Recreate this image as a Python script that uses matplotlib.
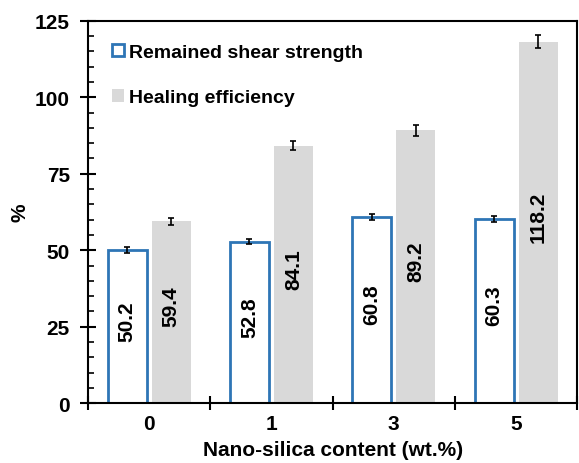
import matplotlib.pyplot as plt
import numpy as np

plt.rcParams['font.family'] = ['Liberation Sans', 'DejaVu Sans']
plt.rcParams['font.weight'] = 'bold'

# data
contents = ['0', '1', '3', '5']
shear_strength = [50.2, 52.8, 60.8, 60.3]
shear_err = [1.0, 0.9, 1.0, 1.0]
healing_eff = [59.4, 84.1, 89.2, 118.2]
healing_err = [1.2, 1.5, 1.7, 2.0]

BLUE = '#2E75B6'
GREY = '#D9D9D9'

fig = plt.figure(figsize=(5.79, 4.64), dpi=100)
ax = fig.add_axes([0.152, 0.129, 0.845, 0.824])

centers = np.arange(len(contents)) + 0.5
w = 0.32
off = 0.18

ax.bar(centers - off, shear_strength, width=w, color='white', edgecolor=BLUE,
       linewidth=2, label='Remained shear strength', zorder=2)
ax.bar(centers + off, healing_eff, width=w, color=GREY, edgecolor='none',
       label='Healing efficiency', zorder=2)
ax.errorbar(centers - off, shear_strength, yerr=shear_err, fmt='none',
            ecolor='black', elinewidth=1.2, capsize=2, capthick=1.2, zorder=3)
ax.errorbar(centers + off, healing_eff, yerr=healing_err, fmt='none',
            ecolor='black', elinewidth=1.2, capsize=2, capthick=1.2, zorder=3)

for x, v in zip(centers - off, shear_strength):
    ax.text(x, v / 2 + 2, f'{v:.1f}', rotation=90, ha='center', va='center',
            fontsize=15, fontweight='bold', zorder=4)
for x, v in zip(centers + off, healing_eff):
    ax.text(x, v / 2 + 2, f'{v:.1f}', rotation=90, ha='center', va='center',
            fontsize=15, fontweight='bold', zorder=4)

ax.set_xlim(0, len(contents))
ax.set_ylim(0, 125)

# boundaries get the ticks, centers get the labels
ax.set_xticks(np.arange(len(contents) + 1))
ax.set_xticklabels([])
ax.set_xticks(centers, minor=True)
ax.set_xticklabels(contents, minor=True, fontsize=15, fontweight='bold')
ax.tick_params(axis='x', which='major', direction='inout', length=10, width=1.5)
ax.tick_params(axis='x', which='minor', length=0, pad=8)

ax.set_yticks(np.arange(0, 126, 25))
ax.set_yticks(np.arange(0, 126, 5), minor=True)
ax.tick_params(axis='y', which='major', direction='inout', length=12, width=1.5,
               labelsize=15, pad=7)
ax.tick_params(axis='y', which='minor', direction='in', length=4, width=1.2)
for lab in ax.get_yticklabels():
    lab.set_fontweight('bold')

for s in ax.spines.values():
    s.set_linewidth(1.5)

ax.set_xlabel('Nano-silica content (wt.%)', fontsize=15, fontweight='bold', labelpad=5)
ax.set_ylabel('%', fontsize=15, fontweight='bold', labelpad=4)

ax.legend(loc='upper left', frameon=False, fontsize=14, handlelength=0.6,
          handleheight=0.6, handletextpad=0.3, labelspacing=1.45,
          bbox_to_anchor=(0.013, 0.985))

fig.savefig('out.png', dpi=100)
